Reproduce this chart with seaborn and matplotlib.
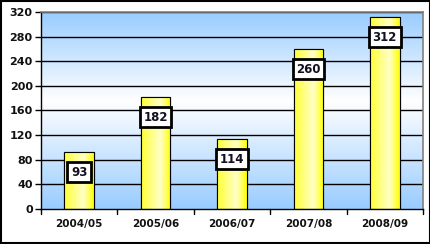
import numpy as np
import pandas as pd
import matplotlib
matplotlib.use("Agg")
import matplotlib.pyplot as plt
from matplotlib.colors import LinearSegmentedColormap
import seaborn as sns

seasons = ["2004/05", "2005/06", "2006/07", "2007/08", "2008/09"]
values = [93, 182, 114, 260, 312]
yticks = [0, 40, 80, 120, 160, 200, 240, 280, 320]

df = pd.DataFrame({"season": seasons, "value": values})

sns.set_style("white")
plt.rcParams["font.family"] = ["DejaVu Sans"]

fig = plt.figure(figsize=(4.31, 2.44), dpi=100)
ax = fig.add_axes([41/431, 1-209/244, (423-41)/431, (209-12)/244])

# background gradient
bg = LinearSegmentedColormap.from_list("bg", [(0, "#99CCFF"), (0.55, "#FFFFFF"), (1, "#99CCFF")])
grad = np.linspace(0, 1, 256).reshape(-1, 1)
ax.imshow(grad, cmap=bg, aspect="auto", extent=[0, 1, 0, 1], transform=ax.transAxes,
          origin="lower", zorder=0)

sns.barplot(data=df, x="season", y="value", ax=ax, width=0.39, color="#FFFF33",
            edgecolor="black", linewidth=0.8, zorder=3)

bar_cmap = LinearSegmentedColormap.from_list("bar", [(0, "#FFFF33"), (0.65, "#FFFFC8"), (1, "#FFFF00")])
hgrad = np.linspace(0, 1, 256).reshape(1, -1)
for p in ax.patches:
    x0, y0 = p.get_x(), p.get_y()
    w, h = p.get_width(), p.get_height()
    im = ax.imshow(hgrad, cmap=bar_cmap, aspect="auto", extent=[x0, x0 + w, y0, y0 + h],
                   origin="lower", zorder=3.5)
    im.set_clip_path(p)
    ax.add_patch(plt.Rectangle((x0, y0), w, h, fill=False, ec="black", lw=0.8, zorder=4))

for i, v in enumerate(values):
    ax.text(i, v - 33, str(v), ha="center", va="center", fontsize=8.5, fontweight="bold",
            color="#111122", zorder=6,
            bbox=dict(boxstyle="square,pad=0.3", fc="white", ec="black", lw=2))

ax.set_xlim(-0.5, len(values) - 0.5)
ax.set_ylim(0, 320)
ax.set_yticks(yticks)
ax.set_yticklabels([str(t) for t in yticks], fontsize=8, fontweight="bold", color="#111111")
ax.set_xticks(range(len(seasons)))
ax.set_xticklabels(seasons, fontsize=7.5, fontweight="bold", color="#111111")
ax.tick_params(axis="x", length=0, pad=7)
ax.tick_params(axis="y", length=4, width=1, color="black", left=True, pad=2)
for b in np.arange(-0.5, len(values), 1.0):
    ax.plot([b, b], [0, -0.025], transform=ax.get_xaxis_transform(), color="black",
            lw=1, clip_on=False, zorder=5)
ax.set_xlabel("")
ax.set_ylabel("")
for t in yticks[1:]:
    ax.axhline(t, color="black", lw=1, zorder=1)
for s in ["left", "bottom"]:
    ax.spines[s].set_color("black")
    ax.spines[s].set_linewidth(1)
for s in ["top", "right"]:
    ax.spines[s].set_color("#808080")
    ax.spines[s].set_linewidth(1.2)
for s in ax.spines.values():
    s.set_zorder(7)

fig.patches.append(plt.Rectangle((0.002, 0.004), 0.996, 0.992, transform=fig.transFigure,
                                 fill=False, ec="black", lw=1.5))
fig.savefig("out.png", dpi=100, facecolor="white")
